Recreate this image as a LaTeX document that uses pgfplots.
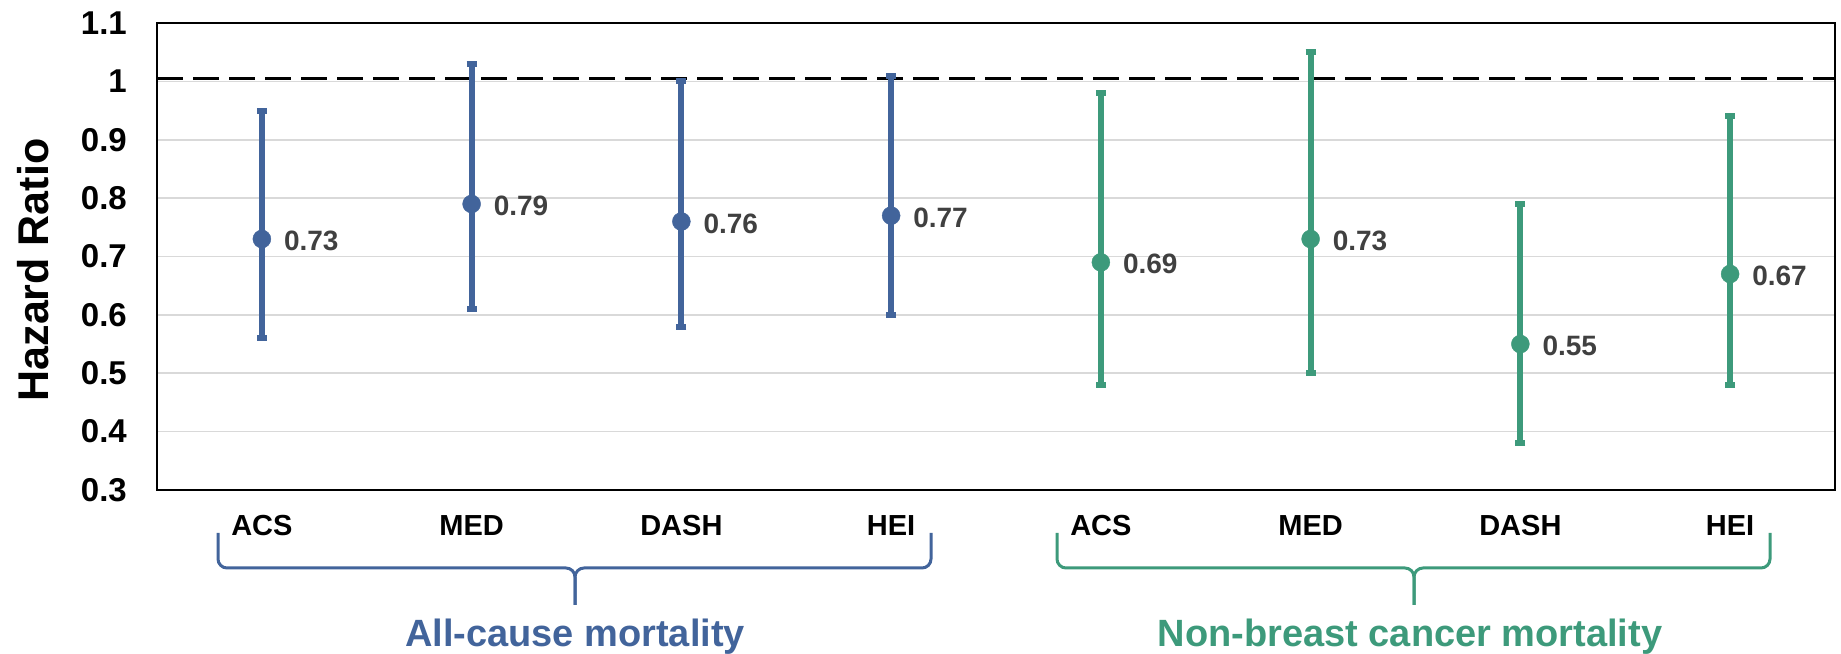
\documentclass[border=0pt]{standalone}
\usepackage{pgfplots}
\pgfplotsset{compat=1.18}
\usepackage{pgfplotstable}
\usepackage{fontspec}
\setmainfont{Liberation Sans}
\definecolor{cblue}{RGB}{66,100,155}
\definecolor{cgreen}{RGB}{61,154,123}
\definecolor{labgray}{RGB}{64,64,64}

\pgfplotstableread{
x y lo hi lab
0 0.73 0.56 0.95 0.73
1 0.79 0.61 1.03 0.79
2 0.76 0.58 1.00 0.76
3 0.77 0.60 1.01 0.77
}\allcause

\pgfplotstableread{
x y lo hi lab
4 0.69 0.48 0.98 0.69
5 0.73 0.50 1.05 0.73
6 0.55 0.38 0.79 0.55
7 0.67 0.48 0.94 0.67
}\nonbreast

\begin{document}
\begin{tikzpicture}
\useasboundingbox (0pt,0pt) rectangle (1841pt,653pt);
\begin{axis}[
  at={(157pt,163pt)}, anchor=south west,
  scale only axis, width=1678pt, height=467pt,
  xmin=-0.5, xmax=7.5, ymin=0.3, ymax=1.1,
  xtick={0,1,2,3,4,5,6,7},
  xticklabels={ACS,MED,DASH,HEI,ACS,MED,DASH,HEI},
  ytick={0.3,0.4,0.5,0.6,0.7,0.8,0.9,1.0,1.1},
  yticklabels={0.3,0.4,0.5,0.6,0.7,0.8,0.9,1,1.1},
  major tick length=0pt,
  ymajorgrids,
  major grid style={line width=1.5pt, color=black!15},
  axis line style={line width=2pt},
  yticklabel style={font=\fontsize{33}{40}\selectfont\bfseries, inner sep=0pt, xshift=-30pt},
  xticklabel style={font=\fontsize{29}{35}\selectfont\bfseries, inner sep=0pt, yshift=-25pt},
  clip=false,
]
\addplot[black, line width=3.5pt, dash pattern=on 26pt off 10pt, forget plot] coordinates {(-0.5,1.005) (7.5,1.005)};

\addplot[cblue, only marks, mark=*, mark size=9pt, mark options={fill=cblue, draw=cblue},
  point meta=explicit symbolic, nodes near coords,
  nodes near coords style={anchor=west, xshift=22pt, yshift=-2pt, inner sep=0pt, font=\fontsize{28}{34}\selectfont\bfseries, text=labgray},
  error bars/.cd, y dir=both, y explicit, error mark=|,
  error bar style={line width=6pt, cblue},
  error mark options={line width=6pt, mark size=5pt, cblue}]
  table[x=x, y=y, y error plus expr=\thisrow{hi}-\thisrow{y}, y error minus expr=\thisrow{y}-\thisrow{lo}, meta=lab] {\allcause};

\addplot[cgreen, only marks, mark=*, mark size=9pt, mark options={fill=cgreen, draw=cgreen},
  point meta=explicit symbolic, nodes near coords,
  nodes near coords style={anchor=west, xshift=22pt, yshift=-2pt, inner sep=0pt, font=\fontsize{28}{34}\selectfont\bfseries, text=labgray},
  error bars/.cd, y dir=both, y explicit, error mark=|,
  error bar style={line width=6pt, cgreen},
  error mark options={line width=6pt, mark size=5pt, cgreen}]
  table[x=x, y=y, y error plus expr=\thisrow{hi}-\thisrow{y}, y error minus expr=\thisrow{y}-\thisrow{lo}, meta=lab] {\nonbreast};
\end{axis}

\node[rotate=90, inner sep=0pt, font=\fontsize{43}{50}\selectfont\bfseries] at (33pt,383pt) {Hazard Ratio};

\draw[cblue, line width=3pt, rounded corners=9pt] (218pt,120pt) -- (218pt,85pt) -- (575pt,85pt) -- (575pt,48pt);
\draw[cblue, line width=3pt, rounded corners=9pt] (931pt,120pt) -- (931pt,85pt) -- (575pt,85pt) -- (575pt,48pt);
\draw[cgreen, line width=3pt, rounded corners=9pt] (1057pt,120pt) -- (1057pt,85pt) -- (1414pt,85pt) -- (1414pt,48pt);
\draw[cgreen, line width=3pt, rounded corners=9pt] (1770pt,120pt) -- (1770pt,85pt) -- (1414pt,85pt) -- (1414pt,48pt);

\node[anchor=base, inner sep=0pt, font=\fontsize{38}{45}\selectfont\bfseries, text=cblue] at (575pt,6pt) {All-cause mortality};
\node[anchor=base, inner sep=0pt, font=\fontsize{38}{45}\selectfont\bfseries, text=cgreen] at (1410pt,6pt) {Non-breast cancer mortality};
\end{tikzpicture}
\end{document}
